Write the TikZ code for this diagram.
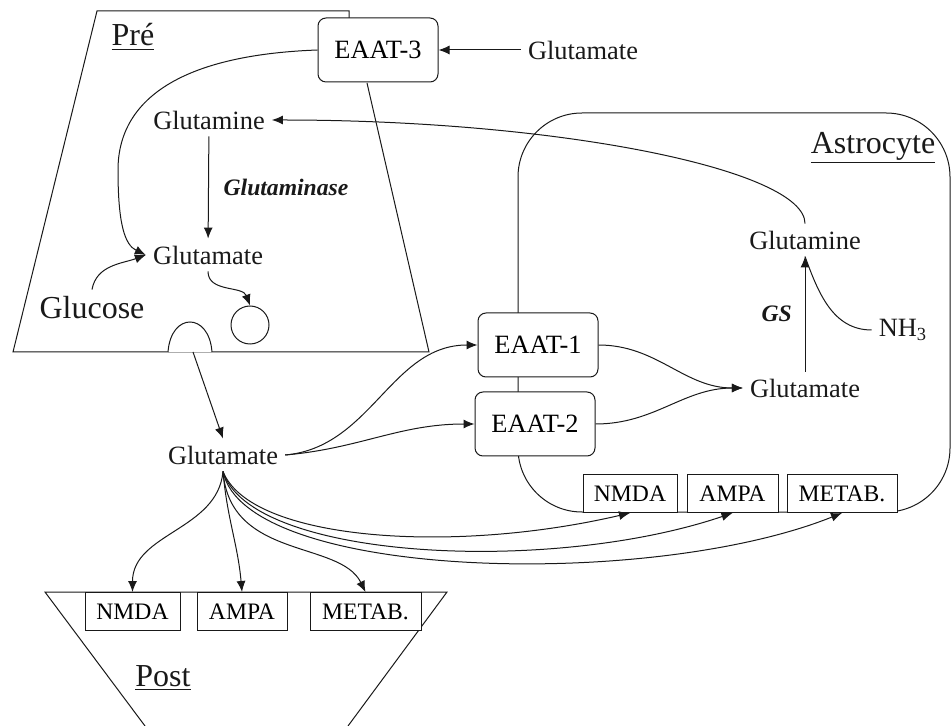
\documentclass[tikz,border=0pt]{standalone}
\usepackage{fontspec}
\setmainfont{Liberation Serif}
\usepackage{tikz}
\usetikzlibrary{arrows.meta}
\definecolor{ink}{RGB}{25,25,25}
\tikzset{
  txt/.style={font=\fontsize{13.2}{15}\selectfont,text=ink},
  big/.style={font=\fontsize{16}{18}\selectfont,text=ink},
  enz/.style={font=\fontsize{11.8}{14}\selectfont\bfseries\itshape,text=ink},
  tbox/.style={draw=ink,rounded corners=4pt,fill=white,minimum width=60pt,minimum height=32pt,font=\fontsize{13.2}{15}\selectfont},
  rec/.style={draw=ink,fill=white,minimum height=19pt,inner sep=2pt,font=\fontsize{11.8}{14}\selectfont},
  memb/.style={draw=ink,line width=0.5pt},
  arr/.style={-{Latex[length=5.5pt,width=4.5pt]},draw=ink,line width=0.5pt},
}

\begin{document}
\begin{tikzpicture}[x=0.5pt,y=-0.5pt,line width=0.5pt]
  \useasboundingbox (0,0) rectangle (952,726);
  % membranes
  \draw[memb] (349,18) -- (349,11) -- (97,11) -- (13,352) -- (429,352) -- (367,83);
  \draw[memb,fill=white] (168,352) .. controls (171,312) and (209,312) .. (212,352);
  \coordinate (bump) at (193,352);
  \draw[memb,rounded corners=32pt] (518,113) rectangle (950,512);
  \draw[memb] (145,726) -- (45,592) -- (447,592) -- (348,726);

  % presynaptic side
  \node[big] (pre) at (133,37) {\underline{Pré}};
  \node[tbox] (eaat3) at (378,50) {EAAT-3};
  \node[txt] (gluext) at (583,50) {Glutamate};
  \node[txt] (glnpre) at (209,120) {Glutamine};
  \node[txt] (glupre) at (208,255) {Glutamate};
  \node[big] (glucose) at (92,308) {Glucose};
  \node[draw=ink,circle,minimum size=19pt,inner sep=0pt] (ves) at (250,325) {};

  % cleft and astrocyte
  \node[txt] (glusyn) at (223,455) {Glutamate};
  \node[tbox] (eaat1) at (538,345) {EAAT-1};
  \node[tbox] (eaat2) at (535,424) {EAAT-2};
  \node[big] (astro) at (873,148) {\underline{Astrocyte}};
  \node[txt] (glnast) at (805,240) {Glutamine};
  \node[txt] (gluast) at (805,388) {Glutamate};
  \node[txt] (nh3) at (903,330) {NH\textsubscript{3}};
  \node[rec,minimum width=47pt] (anmda) at (630,493.5) {NMDA};
  \node[rec,minimum width=45.5pt] (aampa) at (732.5,493.5) {AMPA};
  \node[rec,minimum width=55pt] (ametab) at (842,493.5) {METAB.};

  % postsynaptic side
  \node[rec,minimum width=47.5pt] (pnmda) at (132.5,611.5) {NMDA};
  \node[rec,minimum width=45pt] (pampa) at (242,611.5) {AMPA};
  \node[rec,minimum width=55.5pt] (pmetab) at (365.5,611.5) {METAB.};
  \node[big] (post) at (163,678) {\underline{Post}};

  % uptake and recycling
  \draw[arr] (gluext) -- (eaat3);
  \draw[arr] (eaat3.west) .. controls (180,55) and (118,100) .. (118,170)
     .. controls (118,225) and (125,245) .. (glupre.west);
  \draw[arr] (glucose.north) to[out=80,in=200] (glupre.west);
  \draw[arr] (glnpre) -- (glupre) node[midway,right,enz,xshift=4pt] {Glutaminase};
  \draw[arr] (glupre.south) to[out=-90,in=110] (ves.north);
  \draw[arr] (bump) -- (glusyn.north);
  \draw[arr] (glusyn.east) to[out=5,in=180] (eaat1.west);
  \draw[arr] (glusyn.east) to[out=5,in=180] (eaat2.west);
  \draw[arr] (eaat1.east) to[out=0,in=180] (gluast.west);
  \draw[arr] (eaat2.east) to[out=0,in=180] (gluast.west);
  \draw[arr] (gluast) -- (glnast) node[midway,left,enz,xshift=-3pt] {GS};
  \draw[ink] (nh3.west) to[out=180,in=-70] (glnast.south);
  \draw[arr] (glnast.north) .. controls (805,170) and (560,120) .. (glnpre.east);

  % receptors
  \draw[arr] (glusyn.south) to[out=-95,in=90] (pnmda.north);
  \draw[arr] (glusyn.south) to[out=-85,in=95] (pampa.north);
  \draw[arr] (glusyn.south) .. controls (230,560) and (340,540) .. (pmetab.north);
  \draw[arr] (glusyn.south) .. controls (250,540) and (450,555) .. (anmda.south);
  \draw[arr] (glusyn.south) .. controls (250,560) and (550,575) .. (aampa.south);
  \draw[arr] (glusyn.south) .. controls (245,580) and (650,590) .. (ametab.south);
\end{tikzpicture}
\end{document}
